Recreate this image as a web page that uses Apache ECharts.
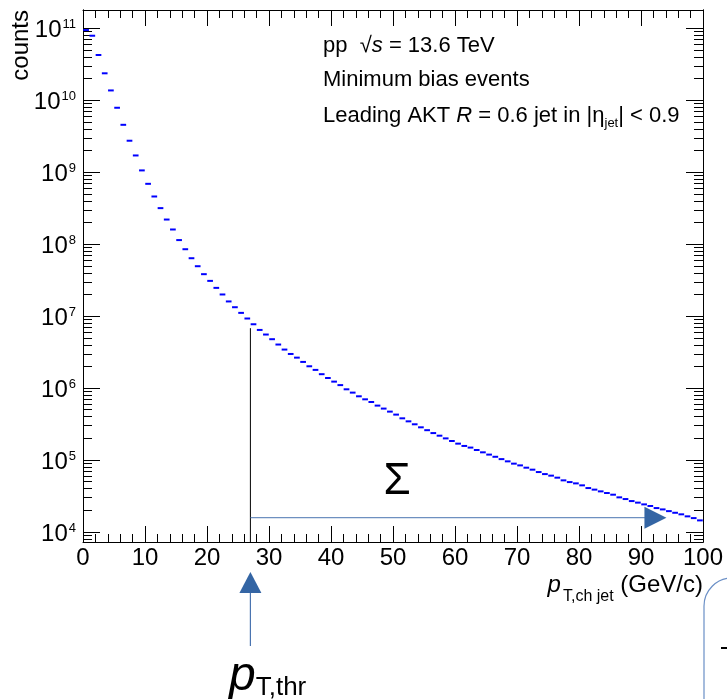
<!DOCTYPE html>
<html>
<head>
<meta charset="utf-8">
<script src="https://cdn.jsdelivr.net/npm/echarts@6/dist/echarts.min.js"></script>
<style>
  html, body { margin: 0; padding: 0; background: #fff; }
  #chart { width: 727px; height: 699px; }
</style>
</head>
<body>
<div id="chart"></div>
<script>
// leading jet pT spectrum, 1 GeV/c bins (lower edges)
const binLow = [
  0, 1, 2, 3, 4, 5, 6, 7, 8, 9, 10, 11, 12, 13, 14, 15, 16, 17, 18, 19,
  20, 21, 22, 23, 24, 25, 26, 27, 28, 29, 30, 31, 32, 33, 34, 35, 36, 37, 38, 39,
  40, 41, 42, 43, 44, 45, 46, 47, 48, 49, 50, 51, 52, 53, 54, 55, 56, 57, 58, 59,
  60, 61, 62, 63, 64, 65, 66, 67, 68, 69, 70, 71, 72, 73, 74, 75, 76, 77, 78, 79,
  80, 81, 82, 83, 84, 85, 86, 87, 88, 89, 90, 91, 92, 93, 94, 95, 96, 97, 98, 99
]
const binWidth = 1

const counts = [
  9.46e10, 7.89e10, 4.26e10, 2.37e10, 1.37e10, 7.87e9, 4.56e9, 2.74e9, 1.71e9, 1.06e9,
  6.90e8, 4.60e8, 3.17e8, 2.20e8, 1.60e8, 1.14e8, 8.51e7, 6.38e7, 4.94e7, 3.83e7,
  3.09e7, 2.47e7, 2.00e7, 1.60e7, 1.33e7, 1.11e7, 9.27e6, 7.71e6, 6.43e6, 5.55e6,
  4.78e6, 4.03e6, 3.43e6, 2.98e6, 2.65e6, 2.31e6, 2.01e6, 1.79e6, 1.56e6, 1.38e6,
  1.23e6, 1.10e6, 9.62e5, 8.65e5, 7.69e5, 6.98e5, 6.41e5, 5.71e5, 5.19e5, 4.71e5,
  4.28e5, 3.80e5, 3.45e5, 3.14e5, 2.85e5, 2.60e5, 2.37e5, 2.18e5, 2.00e5, 1.84e5,
  1.69e5, 1.57e5, 1.49e5, 1.38e5, 1.28e5, 1.19e5, 1.11e5, 1.03e5, 9.59e4, 8.91e4,
  8.43e4, 7.83e4, 7.35e4, 6.81e4, 6.38e4, 6.07e4, 5.69e4, 5.22e4, 4.94e4, 4.74e4,
  4.45e4, 4.08e4, 3.88e4, 3.67e4, 3.48e4, 3.30e4, 3.03e4, 2.87e4, 2.69e4, 2.56e4,
  2.42e4, 2.30e4, 2.15e4, 2.06e4, 1.95e4, 1.85e4, 1.76e4, 1.65e4, 1.56e4, 1.45e4
]

// axis ranges and ticks
const xMin = 0, xMax = 100
const yMin = 7261, yMax = 1.797e11
const decades = [1e4, 1e5, 1e6, 1e7, 1e8, 1e9, 1e10, 1e11]
const minorMult = [2, 3, 4, 5, 6, 7, 8, 9]

// annotation: threshold and sum arrow
const pTthr = 27
const thrLineTop = 6.8e6
const sumLevel = 1.58e4
const sumEnd = 94.1

const infoLines = [
  '{n|pp  √}{i|s}{n| = 13.6 TeV}',
  '{n|Minimum bias events}',
  '{n|Leading AKT }{i|R}{n| = 0.6 jet in |η}{sub|jet}{n|| < 0.9}'
]

const FONT = "'Liberation Sans', Arial, Helvetica, sans-serif"
const minorTicks = []
;[1e3].concat(decades).forEach(d => {
  minorMult.forEach(m => {
    const v = m * d
    if (v > yMin && v < yMax) minorTicks.push(v)
  })
})

function xAxisDef(position, showLabels) {
  return {
    type: 'value', position, min: xMin, max: xMax, interval: 10,
    axisLine: { show: true, onZero: false, lineStyle: { color: '#000', width: 1 } },
    axisTick: { show: true, inside: true, length: 16, lineStyle: { color: '#000' } },
    minorTick: { show: true, splitNumber: 5, length: 8, lineStyle: { color: '#000' } },
    axisLabel: showLabels
      ? { show: true, margin: 4, color: '#000', fontSize: 24, fontFamily: FONT }
      : { show: false },
    splitLine: { show: false },
    minorSplitLine: { show: false }
  }
}

function yAxisDef(position, ticks, len, showLabels) {
  return {
    type: 'log', logBase: 10, position, min: yMin, max: yMax,
    axisLine: { show: true, onZero: false, lineStyle: { color: '#000', width: 1 } },
    axisTick: { show: true, inside: true, length: len, customValues: ticks, lineStyle: { color: '#000' } },
    axisLabel: showLabels
      ? {
          show: true, margin: 7, color: '#000', customValues: decades,
          formatter: v => '{b|10}{s|' + Math.round(Math.log10(v)) + '}',
          rich: {
            b: { fontSize: 24, fontFamily: FONT, color: '#000', verticalAlign: 'bottom' },
            s: { fontSize: 13, fontFamily: FONT, color: '#000', verticalAlign: 'bottom', padding: [4, 0, 12, 1] }
          }
        }
      : { show: false },
    splitLine: { show: false }
  }
}

const chart = echarts.init(document.getElementById('chart'))

const option = {
  backgroundColor: '#fff',
  animation: false,
  grid: { left: 83, right: 24, top: 10, bottom: 157, containLabel: false },
  xAxis: [xAxisDef('bottom', true), xAxisDef('top', false)],
  yAxis: [
    yAxisDef('left', decades, 17, true),
    yAxisDef('left', minorTicks, 9, false),
    yAxisDef('right', decades, 17, false),
    yAxisDef('right', minorTicks, 9, false)
  ],
  series: [
    {
      name: 'leading jet',
      type: 'custom',
      xAxisIndex: 0,
      yAxisIndex: 0,
      silent: true,
      data: binLow.map((x, i) => [x, counts[i]]),
      encode: { x: 0, y: 1 },
      renderItem: function (params, api) {
        const x0 = api.value(0)
        const y = api.value(1)
        const p0 = api.coord([x0 + 0.04, y])
        const p1 = api.coord([x0 + binWidth - 0.04, y])
        return {
          type: 'line',
          shape: { x1: p0[0], y1: p0[1], x2: p1[0], y2: p1[1] },
          style: { stroke: '#0000ff', lineWidth: 2 }
        }
      }
    },
    {
      name: 'annotation',
      type: 'custom',
      xAxisIndex: 0,
      yAxisIndex: 0,
      silent: true,
      data: [[pTthr, sumLevel]],
      encode: { x: 0, y: 1 },
      renderItem: function (params, api) {
        const thr = api.value(0)
        const lvl = api.value(1)
        const top = api.coord([thr, thrLineTop])
        const bot = api.coord([thr, yMin])
        const s0 = api.coord([thr, lvl])
        const s1 = api.coord([sumEnd, lvl])
        const blue = '#3465a4'
        return {
          type: 'group',
          children: [
            { type: 'line', shape: { x1: top[0], y1: top[1], x2: bot[0], y2: bot[1] },
              style: { stroke: '#000', lineWidth: 1 } },
            { type: 'line', shape: { x1: s0[0], y1: s0[1], x2: s1[0] - 12, y2: s1[1] },
              style: { stroke: '#4a74b0', lineWidth: 1 } },
            { type: 'polygon', shape: { points: [[s1[0], s1[1]], [s1[0] - 22, s1[1] - 11], [s1[0] - 22, s1[1] + 11]] },
              style: { fill: blue } },
            { type: 'polygon', shape: { points: [[bot[0], bot[1] + 30], [bot[0] - 11, bot[1] + 51], [bot[0] + 11, bot[1] + 51]] },
              style: { fill: blue } },
            { type: 'line', shape: { x1: bot[0], y1: bot[1] + 51, x2: bot[0], y2: bot[1] + 104 },
              style: { stroke: '#4a74b0', lineWidth: 1.2 } }
          ]
        }
      }
    }
  ],
  graphic: [
    {
      type: 'text', x: 9, y: 10, rotation: Math.PI / 2,
      style: { text: 'counts', fontSize: 24, fontFamily: FONT, fill: '#000', align: 'right', verticalAlign: 'top' }
    },
    {
      type: 'text', x: 703, y: 573,
      style: {
        text: '{p|p}{sub|T,ch jet}{n| (GeV/c)}', align: 'right', verticalAlign: 'top',
        rich: {
          p: { fontSize: 24, fontFamily: FONT, fontStyle: 'italic', fill: '#000', verticalAlign: 'top' },
          sub: { fontSize: 16, fontFamily: FONT, fill: '#000', verticalAlign: 'top', padding: [16, 0, 0, 2] },
          n: { fontSize: 24, fontFamily: FONT, fill: '#000', verticalAlign: 'top' }
        }
      }
    },
    {
      type: 'text', x: 397, y: 482,
      style: { text: 'Σ', fontSize: 44, fontFamily: FONT, fill: '#000', align: 'center', verticalAlign: 'middle' }
    },
    {
      type: 'text', x: 229, y: 653,
      style: {
        text: '{p|p}{s|T,thr}', align: 'left', verticalAlign: 'top',
        rich: {
          p: { fontSize: 48, fontFamily: FONT, fontStyle: 'italic', fill: '#000', verticalAlign: 'bottom' },
          s: { fontSize: 26, fontFamily: FONT, fill: '#000', verticalAlign: 'bottom' }
        }
      }
    },
    ...infoLines.map((t, i) => ({
      type: 'text', x: 323, y: [46, 80, 116][i],
      style: {
        text: t, align: 'left', verticalAlign: 'middle',
        rich: {
          n: { fontSize: 22, fontFamily: FONT, fill: '#000' },
          i: { fontSize: 22, fontFamily: FONT, fontStyle: 'italic', fill: '#000' },
          sub: { fontSize: 13, fontFamily: FONT, fill: '#000', padding: [14, 0, 0, 0] }
        }
      }
    })),
    {
      type: 'rect', shape: { x: 704, y: 578, width: 90, height: 200, r: 28 },
      style: { fill: 'none', stroke: '#6a8fc6', lineWidth: 1.2 }
    },
    {
      type: 'rect', shape: { x: 721, y: 647, width: 6, height: 2 },
      style: { fill: '#000' }
    }
  ]
}

chart.setOption(option)
</script>
</body>
</html>
